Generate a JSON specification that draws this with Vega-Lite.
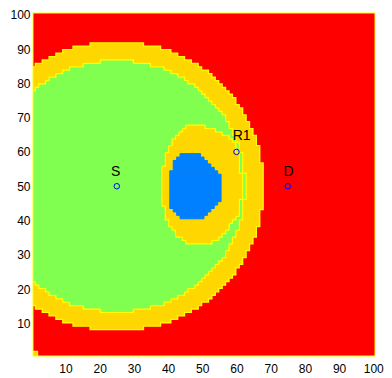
{
"$schema":"https://vega.github.io/schema/vega-lite/v6.json",
"width":342,"height":343,"autosize":"none",
"padding":{"left":33,"top":13,"right":17,"bottom":22},
"config":{"view":{"stroke":null},"font":"Liberation Sans"},
"datasets":{
"cells":[
{"z":"red","x0":0.5,"x1":100.5,"y0":0.5,"y1":100.5},
{"z":"ring","x0":0.5,"x1":67.5,"y0":43.5,"y1":56.5},
{"z":"ring","x0":0.5,"x1":66.5,"y0":56.5,"y1":61.5},
{"z":"ring","x0":0.5,"x1":66.5,"y0":38.5,"y1":43.5},
{"z":"ring","x0":0.5,"x1":65.5,"y0":61.5,"y1":64.5},
{"z":"ring","x0":0.5,"x1":65.5,"y0":35.5,"y1":38.5},
{"z":"ring","x0":0.5,"x1":64.5,"y0":64.5,"y1":66.5},
{"z":"ring","x0":0.5,"x1":64.5,"y0":33.5,"y1":35.5},
{"z":"ring","x0":0.5,"x1":63.5,"y0":66.5,"y1":68.5},
{"z":"ring","x0":0.5,"x1":63.5,"y0":31.5,"y1":33.5},
{"z":"ring","x0":0.5,"x1":62.5,"y0":68.5,"y1":70.5},
{"z":"ring","x0":0.5,"x1":62.5,"y0":29.5,"y1":31.5},
{"z":"ring","x0":0.5,"x1":61.5,"y0":70.5,"y1":72.5},
{"z":"ring","x0":0.5,"x1":61.5,"y0":27.5,"y1":29.5},
{"z":"ring","x0":0.5,"x1":60.5,"y0":72.5,"y1":73.5},
{"z":"ring","x0":0.5,"x1":60.5,"y0":26.5,"y1":27.5},
{"z":"ring","x0":0.5,"x1":59.5,"y0":73.5,"y1":75.5},
{"z":"ring","x0":0.5,"x1":59.5,"y0":24.5,"y1":26.5},
{"z":"ring","x0":0.5,"x1":58.5,"y0":75.5,"y1":76.5},
{"z":"ring","x0":0.5,"x1":58.5,"y0":23.5,"y1":24.5},
{"z":"ring","x0":0.5,"x1":57.5,"y0":76.5,"y1":77.5},
{"z":"ring","x0":0.5,"x1":57.5,"y0":22.5,"y1":23.5},
{"z":"ring","x0":0.5,"x1":56.5,"y0":77.5,"y1":78.5},
{"z":"ring","x0":0.5,"x1":56.5,"y0":21.5,"y1":22.5},
{"z":"ring","x0":0.5,"x1":55.5,"y0":78.5,"y1":79.5},
{"z":"ring","x0":0.5,"x1":55.5,"y0":20.5,"y1":21.5},
{"z":"ring","x0":0.5,"x1":54.5,"y0":79.5,"y1":80.5},
{"z":"ring","x0":0.5,"x1":54.5,"y0":19.5,"y1":20.5},
{"z":"ring","x0":0.5,"x1":53.5,"y0":80.5,"y1":81.5},
{"z":"ring","x0":0.5,"x1":53.5,"y0":18.5,"y1":19.5},
{"z":"ring","x0":0.5,"x1":52.5,"y0":81.5,"y1":82.5},
{"z":"ring","x0":0.5,"x1":52.5,"y0":17.5,"y1":18.5},
{"z":"ring","x0":0.5,"x1":51.5,"y0":82.5,"y1":83.5},
{"z":"ring","x0":0.5,"x1":51.5,"y0":16.5,"y1":17.5},
{"z":"ring","x0":0.5,"x1":49.5,"y0":83.5,"y1":84.5},
{"z":"ring","x0":0.5,"x1":49.5,"y0":15.5,"y1":16.5},
{"z":"ring","x0":1.5,"x1":48.5,"y0":84.5,"y1":85.5},
{"z":"ring","x0":1.5,"x1":48.5,"y0":14.5,"y1":15.5},
{"z":"ring","x0":3.5,"x1":46.5,"y0":85.5,"y1":86.5},
{"z":"ring","x0":3.5,"x1":46.5,"y0":13.5,"y1":14.5},
{"z":"ring","x0":5.5,"x1":44.5,"y0":86.5,"y1":87.5},
{"z":"ring","x0":5.5,"x1":44.5,"y0":12.5,"y1":13.5},
{"z":"ring","x0":7.5,"x1":42.5,"y0":87.5,"y1":88.5},
{"z":"ring","x0":7.5,"x1":42.5,"y0":11.5,"y1":12.5},
{"z":"ring","x0":9.5,"x1":40.5,"y0":88.5,"y1":89.5},
{"z":"ring","x0":9.5,"x1":40.5,"y0":10.5,"y1":11.5},
{"z":"ring","x0":12.5,"x1":37.5,"y0":89.5,"y1":90.5},
{"z":"ring","x0":12.5,"x1":37.5,"y0":9.5,"y1":10.5},
{"z":"ring","x0":17.5,"x1":32.5,"y0":90.5,"y1":91.5},
{"z":"ring","x0":17.5,"x1":32.5,"y0":8.5,"y1":9.5},
{"z":"ring","x0":0.5,"x1":1.5,"y0":0.5,"y1":1.5},
{"z":"disk","x0":0.5,"x1":62.5,"y0":46.5,"y1":53.5},
{"z":"disk","x0":0.5,"x1":61.5,"y0":53.5,"y1":59.5},
{"z":"disk","x0":0.5,"x1":61.5,"y0":40.5,"y1":46.5},
{"z":"disk","x0":0.5,"x1":60.5,"y0":59.5,"y1":62.5},
{"z":"disk","x0":0.5,"x1":60.5,"y0":37.5,"y1":40.5},
{"z":"disk","x0":0.5,"x1":59.5,"y0":62.5,"y1":64.5},
{"z":"disk","x0":0.5,"x1":59.5,"y0":35.5,"y1":37.5},
{"z":"disk","x0":0.5,"x1":58.5,"y0":64.5,"y1":66.5},
{"z":"disk","x0":0.5,"x1":58.5,"y0":33.5,"y1":35.5},
{"z":"disk","x0":0.5,"x1":57.5,"y0":66.5,"y1":68.5},
{"z":"disk","x0":0.5,"x1":57.5,"y0":31.5,"y1":33.5},
{"z":"disk","x0":0.5,"x1":56.5,"y0":68.5,"y1":70.5},
{"z":"disk","x0":0.5,"x1":56.5,"y0":29.5,"y1":31.5},
{"z":"disk","x0":0.5,"x1":55.5,"y0":70.5,"y1":71.5},
{"z":"disk","x0":0.5,"x1":55.5,"y0":28.5,"y1":29.5},
{"z":"disk","x0":0.5,"x1":54.5,"y0":71.5,"y1":72.5},
{"z":"disk","x0":0.5,"x1":54.5,"y0":27.5,"y1":28.5},
{"z":"disk","x0":0.5,"x1":53.5,"y0":72.5,"y1":73.5},
{"z":"disk","x0":0.5,"x1":53.5,"y0":26.5,"y1":27.5},
{"z":"disk","x0":0.5,"x1":52.5,"y0":73.5,"y1":74.5},
{"z":"disk","x0":0.5,"x1":52.5,"y0":25.5,"y1":26.5},
{"z":"disk","x0":0.5,"x1":51.5,"y0":74.5,"y1":75.5},
{"z":"disk","x0":0.5,"x1":51.5,"y0":24.5,"y1":25.5},
{"z":"disk","x0":0.5,"x1":50.5,"y0":75.5,"y1":76.5},
{"z":"disk","x0":0.5,"x1":50.5,"y0":23.5,"y1":24.5},
{"z":"disk","x0":0.5,"x1":49.5,"y0":76.5,"y1":77.5},
{"z":"disk","x0":0.5,"x1":49.5,"y0":22.5,"y1":23.5},
{"z":"disk","x0":1.5,"x1":48.5,"y0":77.5,"y1":78.5},
{"z":"disk","x0":1.5,"x1":48.5,"y0":21.5,"y1":22.5},
{"z":"disk","x0":2.5,"x1":47.5,"y0":78.5,"y1":79.5},
{"z":"disk","x0":2.5,"x1":47.5,"y0":20.5,"y1":21.5},
{"z":"disk","x0":4.5,"x1":45.5,"y0":79.5,"y1":80.5},
{"z":"disk","x0":4.5,"x1":45.5,"y0":19.5,"y1":20.5},
{"z":"disk","x0":5.5,"x1":44.5,"y0":80.5,"y1":81.5},
{"z":"disk","x0":5.5,"x1":44.5,"y0":18.5,"y1":19.5},
{"z":"disk","x0":7.5,"x1":42.5,"y0":81.5,"y1":82.5},
{"z":"disk","x0":7.5,"x1":42.5,"y0":17.5,"y1":18.5},
{"z":"disk","x0":9.5,"x1":40.5,"y0":82.5,"y1":83.5},
{"z":"disk","x0":9.5,"x1":40.5,"y0":16.5,"y1":17.5},
{"z":"disk","x0":11.5,"x1":38.5,"y0":83.5,"y1":84.5},
{"z":"disk","x0":11.5,"x1":38.5,"y0":15.5,"y1":16.5},
{"z":"disk","x0":15.5,"x1":34.5,"y0":84.5,"y1":85.5},
{"z":"disk","x0":15.5,"x1":34.5,"y0":14.5,"y1":15.5},
{"z":"disk","x0":20.5,"x1":29.5,"y0":85.5,"y1":86.5},
{"z":"disk","x0":20.5,"x1":29.5,"y0":13.5,"y1":14.5},
{"z":"ring2","x0":45.5,"x1":50.5,"y0":66.5,"y1":67.5},
{"z":"ring2","x0":44.5,"x1":53.5,"y0":65.5,"y1":66.5},
{"z":"ring2","x0":43.5,"x1":55.5,"y0":64.5,"y1":65.5},
{"z":"ring2","x0":42.5,"x1":57.5,"y0":63.5,"y1":64.5},
{"z":"ring2","x0":41.5,"x1":58.5,"y0":62.5,"y1":63.5},
{"z":"ring2","x0":41.5,"x1":59.5,"y0":61.5,"y1":62.5},
{"z":"ring2","x0":40.5,"x1":59.5,"y0":59.5,"y1":61.5},
{"z":"ring2","x0":39.5,"x1":60.5,"y0":55.5,"y1":59.5},
{"z":"ring2","x0":38.5,"x1":60.5,"y0":53.5,"y1":55.5},
{"z":"ring2","x0":38.5,"x1":61.5,"y0":46.5,"y1":53.5},
{"z":"ring2","x0":38.5,"x1":60.5,"y0":44.5,"y1":46.5},
{"z":"ring2","x0":39.5,"x1":60.5,"y0":41.5,"y1":44.5},
{"z":"ring2","x0":39.5,"x1":59.5,"y0":40.5,"y1":41.5},
{"z":"ring2","x0":40.5,"x1":58.5,"y0":39.5,"y1":40.5},
{"z":"ring2","x0":40.5,"x1":57.5,"y0":38.5,"y1":39.5},
{"z":"ring2","x0":41.5,"x1":57.5,"y0":37.5,"y1":38.5},
{"z":"ring2","x0":42.5,"x1":56.5,"y0":36.5,"y1":37.5},
{"z":"ring2","x0":42.5,"x1":55.5,"y0":35.5,"y1":36.5},
{"z":"ring2","x0":44.5,"x1":54.5,"y0":34.5,"y1":35.5},
{"z":"ring2","x0":45.5,"x1":52.5,"y0":33.5,"y1":34.5},
{"z":"core","x0":43.5,"x1":49.5,"y0":58.5,"y1":59.5},
{"z":"core","x0":42.5,"x1":50.5,"y0":57.5,"y1":58.5},
{"z":"core","x0":41.5,"x1":51.5,"y0":56.5,"y1":57.5},
{"z":"core","x0":41.5,"x1":52.5,"y0":55.5,"y1":56.5},
{"z":"core","x0":41.5,"x1":53.5,"y0":54.5,"y1":55.5},
{"z":"core","x0":40.5,"x1":54.5,"y0":53.5,"y1":54.5},
{"z":"core","x0":40.5,"x1":55.5,"y0":45.5,"y1":53.5},
{"z":"core","x0":40.5,"x1":54.5,"y0":44.5,"y1":45.5},
{"z":"core","x0":40.5,"x1":53.5,"y0":43.5,"y1":44.5},
{"z":"core","x0":41.5,"x1":52.5,"y0":42.5,"y1":43.5},
{"z":"core","x0":42.5,"x1":51.5,"y0":41.5,"y1":42.5},
{"z":"core","x0":43.5,"x1":50.5,"y0":40.5,"y1":41.5}
],
"pts":[{"x0":25,"y0":50,"name":"S"},{"x0":60,"y0":60,"name":"R1"},{"x0":75,"y0":50,"name":"D"}],
"labels":[{"x0":24.7,"y0":54.2,"t":"S"},{"x0":61.5,"y0":64.5,"t":"R1"},{"x0":75.2,"y0":54.2,"t":"D"}],
"frame":[{"x0":0.5,"x1":100.5,"y0":0.5,"y1":100.5}]
},
"encoding":{
"x":{"field":"x0","type":"quantitative","title":null,"scale":{"domain":[0.5,100.5],"nice":false,"zero":false},
 "axis":{"values":[10,20,30,40,50,60,70,80,90,100],"tickSize":0,"domain":false,"grid":false,"labelFlush":false,"labelOverlap":false,"labelPadding":7,"labelFontSize":12,"labelFont":"Liberation Sans","labelColor":"#000000"}},
"y":{"field":"y0","type":"quantitative","title":null,"scale":{"domain":[0.5,100.5],"nice":false,"zero":false},
 "axis":{"values":[10,20,30,40,50,60,70,80,90,100],"tickSize":0,"domain":false,"grid":false,"labelFlush":false,"labelOverlap":false,"labelPadding":3,"labelFontSize":12,"labelFont":"Liberation Sans","labelColor":"#000000"}}
},
"layer":[
{"data":{"name":"cells"},"transform":[{"filter":"datum.z == 'red'"}],"mark":{"type":"rect","clip":true},
 "encoding":{"x2":{"field":"x1"},"y2":{"field":"y1"},"color":{"field":"z","type":"nominal","legend":null,"scale":{"domain":["red","ring","disk","ring2","core"],"range":["#ff0000","#ffd700","#80ff50","#ffd700","#0080ff"]}}}},
{"data":{"name":"cells"},"transform":[{"filter":"datum.z == 'ring'"}],"mark":{"type":"rect","clip":true,"stroke":"#ffff00","strokeWidth":3.4},
 "encoding":{"x2":{"field":"x1"},"y2":{"field":"y1"},"color":{"field":"z","type":"nominal","legend":null}}},
{"data":{"name":"cells"},"transform":[{"filter":"datum.z == 'ring'"}],"mark":{"type":"rect","clip":true,"stroke":"#ffd700","strokeWidth":1},
 "encoding":{"x2":{"field":"x1"},"y2":{"field":"y1"},"color":{"field":"z","type":"nominal","legend":null}}},
{"data":{"name":"cells"},"transform":[{"filter":"datum.z == 'disk'"}],"mark":{"type":"rect","clip":true,"stroke":"#ffff00","strokeWidth":3.4},
 "encoding":{"x2":{"field":"x1"},"y2":{"field":"y1"},"color":{"field":"z","type":"nominal","legend":null}}},
{"data":{"name":"cells"},"transform":[{"filter":"datum.z == 'disk'"}],"mark":{"type":"rect","clip":true,"stroke":"#80ff50","strokeWidth":1},
 "encoding":{"x2":{"field":"x1"},"y2":{"field":"y1"},"color":{"field":"z","type":"nominal","legend":null}}},
{"data":{"name":"cells"},"transform":[{"filter":"datum.z == 'ring2'"}],"mark":{"type":"rect","clip":true,"stroke":"#ffff00","strokeWidth":3.4},
 "encoding":{"x2":{"field":"x1"},"y2":{"field":"y1"},"color":{"field":"z","type":"nominal","legend":null}}},
{"data":{"name":"cells"},"transform":[{"filter":"datum.z == 'ring2'"}],"mark":{"type":"rect","clip":true,"stroke":"#ffd700","strokeWidth":1},
 "encoding":{"x2":{"field":"x1"},"y2":{"field":"y1"},"color":{"field":"z","type":"nominal","legend":null}}},
{"data":{"name":"cells"},"transform":[{"filter":"datum.z == 'core'"}],"mark":{"type":"rect","clip":true,"stroke":"#0080ff","strokeWidth":1},
 "encoding":{"x2":{"field":"x1"},"y2":{"field":"y1"},"color":{"field":"z","type":"nominal","legend":null}}},
{"data":{"name":"frame"},"mark":{"type":"rect","fill":null,"stroke":"#ffff00","strokeWidth":1},
 "encoding":{"x2":{"field":"x1"},"y2":{"field":"y1"}}},
{"data":{"name":"pts"},"mark":{"type":"point","shape":"circle","filled":false,"size":30,"stroke":"#0000ff","strokeWidth":1,"opacity":1},"encoding":{}},
{"data":{"name":"labels"},"mark":{"type":"text","fontSize":14,"font":"Liberation Sans","color":"#000000","align":"center","baseline":"middle"},
 "encoding":{"text":{"field":"t"}}}
]
}
